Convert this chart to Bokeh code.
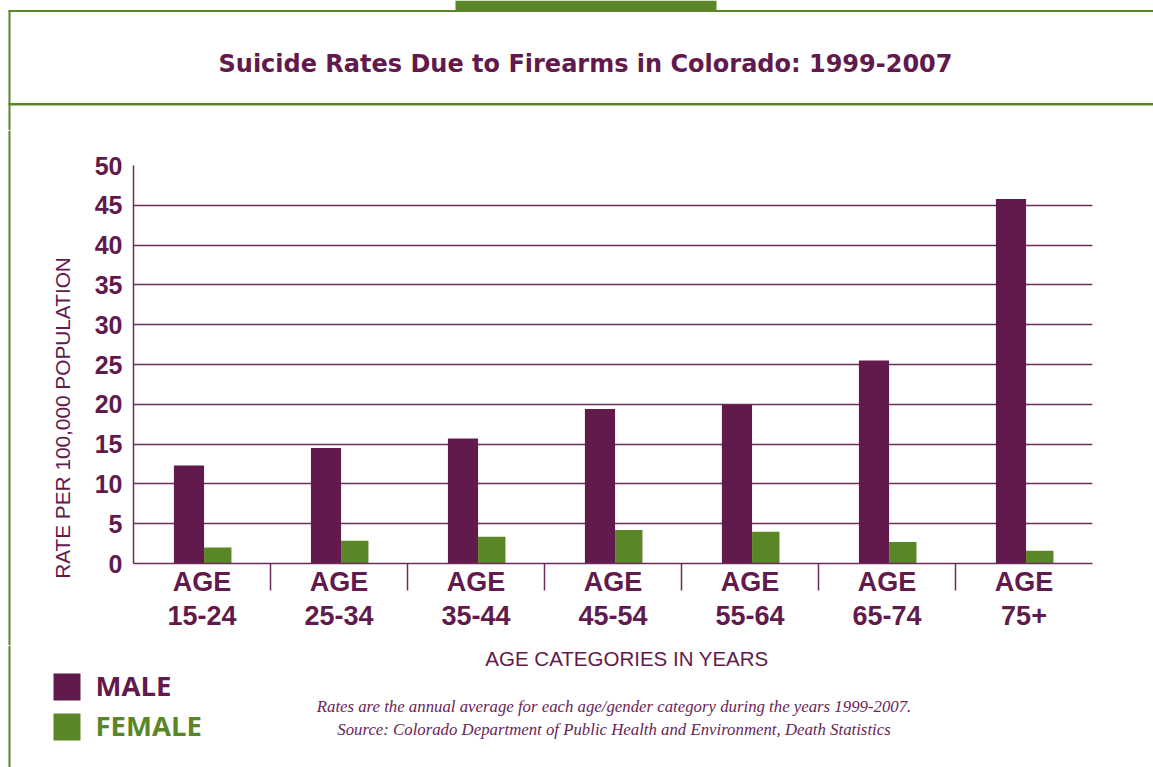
import numpy as np
from bokeh.plotting import figure
from bokeh.layouts import column, row
from bokeh.models import Range1d, FixedTicker, ColumnDataSource
from bokeh.core.properties import value
from bokeh.embed import file_html
from bokeh.resources import INLINE

# ---------------- data ----------------
title = "Suicide Rates Due to Firearms in Colorado: 1999-2007"
categories = ["15-24", "25-34", "35-44", "45-54", "55-64", "65-74", "75+"]
tick_prefix = "AGE"
male = [12.3, 14.5, 15.7, 19.4, 19.9, 25.5, 45.8]
female = [2.0, 2.85, 3.35, 4.2, 4.0, 2.7, 1.6]
y_ticks = [0, 5, 10, 15, 20, 25, 30, 35, 40, 45, 50]
y_title = "RATE PER 100,000 POPULATION"
x_title = "AGE CATEGORIES IN YEARS"
notes = [
    "Rates are the annual average for each age/gender category during the years 1999-2007.",
    "Source: Colorado Department of Public Health and Environment, Death Statistics",
]
series_names = ["MALE", "FEMALE"]

# ---------------- style ----------------
PURPLE = "#611a4b"
GREEN = "#5b8627"
GRID = "#6c2d5e"
NOTE = "#6a2458"
W, H = 1153, 767


def deco_fig(width, x0, x1, y_top, y_bottom):
    """A plain figure whose frame fills it, in page-pixel coordinates (y down)."""
    f = figure(width=width, height=y_bottom - y_top,
               x_range=Range1d(x0, x1), y_range=Range1d(y_bottom, y_top),
               x_axis_location=None, y_axis_location=None,
               output_backend="svg", toolbar_location=None, min_border=0)
    f.frame_align = False
    f.outline_line_color = None
    f.xgrid.visible = False
    f.ygrid.visible = False
    f.background_fill_color = "white"
    f.border_fill_color = "white"
    return f


# ---------------- header ----------------
hdr = deco_fig(W, 0, W, 0, 130)
hdr.quad(left=[455], right=[716], top=[0], bottom=[11], fill_color=GREEN, line_color=None)
hdr.quad(left=[8], right=[W], top=[9.5], bottom=[11.5], fill_color=GREEN, line_color=None)
hdr.quad(left=[8], right=[W], top=[102.5], bottom=[105], fill_color=GREEN, line_color=None)
hdr.quad(left=[8], right=[10], top=[10], bottom=[130], fill_color=GREEN, line_color=None)
hdr.text(x=[585], y=[63], text=[title], text_align="center", text_baseline="middle",
         text_font=value("DejaVu Sans"), text_font_style="bold", text_font_size="24px",
         text_color=PURPLE)

# ---------------- left strip ----------------
lft = deco_fig(80, 0, 80, 130, 645)
lft.quad(left=[8], right=[10], top=[130], bottom=[645], fill_color=GREEN, line_color=None)
lft.text(x=[62], y=[417.5], text=[y_title], angle=np.pi / 2, text_align="center",
         text_baseline="middle", text_font=value("Liberation Sans"),
         text_font_size="20.8px", text_color=PURPLE)

# ---------------- main chart ----------------
n = len(categories)
idx = np.arange(n)
src = ColumnDataSource(dict(x_m=idx - 0.095, x_f=idx + 0.115, male=male, female=female))

p = figure(width=W - 80, height=515,
           x_range=Range1d(-0.5, n - 0.5), y_range=Range1d(0, 50),
           output_backend="svg", toolbar_location=None,
           min_border_left=53, min_border_right=61,
           min_border_top=35, min_border_bottom=82)
p.frame_align = False
p.outline_line_color = None
p.background_fill_color = "white"
p.border_fill_color = "white"

r_m = p.vbar(x="x_m", top="male", width=0.22, bottom=0, source=src,
             fill_color=PURPLE, line_color=None)
r_f = p.vbar(x="x_f", top="female", width=0.2, bottom=0, source=src,
             fill_color=GREEN, line_color=None)

p.yaxis.ticker = FixedTicker(ticks=y_ticks)
p.yaxis.major_tick_out = 0
p.yaxis.major_tick_in = 0
p.yaxis.minor_tick_out = 0
p.yaxis.minor_tick_in = 0
p.yaxis.axis_line_color = GRID
p.yaxis.axis_line_width = 1.5
p.yaxis.major_label_text_font = "Liberation Sans"
p.yaxis.major_label_text_font_style = "bold"
p.yaxis.major_label_text_font_size = "25px"
p.yaxis.major_label_text_color = PURPLE
p.yaxis.major_label_standoff = 11

p.xaxis.ticker = FixedTicker(ticks=list(idx), minor_ticks=[i + 0.5 for i in range(n - 1)])
p.xaxis.major_label_overrides = {int(i): tick_prefix + "\n" + c for i, c in zip(idx, categories)}
p.xaxis.major_tick_out = 0
p.xaxis.major_tick_in = 0
p.xaxis.minor_tick_out = 27
p.xaxis.minor_tick_in = 0
p.xaxis.minor_tick_line_color = GRID
p.xaxis.minor_tick_line_width = 1.5
p.xaxis.axis_line_color = GRID
p.xaxis.axis_line_width = 1.5
p.xaxis.major_label_text_font = "Liberation Sans"
p.xaxis.major_label_text_font_style = "bold"
p.xaxis.major_label_text_font_size = "27px"
p.xaxis.major_label_text_color = PURPLE
p.xaxis.major_label_standoff = -24
p.xaxis.major_label_text_line_height = 1.15

p.xgrid.visible = False
p.ygrid.grid_line_color = GRID
p.ygrid.grid_line_width = 1.5

# ---------------- footer ----------------
ftr = deco_fig(W, 0, W, 645, H)
ftr.quad(left=[8], right=[10], top=[645], bottom=[H], fill_color=GREEN, line_color=None)
ftr.text(x=[626.5], y=[658], text=[x_title], text_align="center", text_baseline="middle",
         text_font=value("Liberation Sans"), text_font_size="20.5px", text_color=PURPLE)
leg_colors = [PURPLE, GREEN]
leg_y = [686.5, 726.5]
ftr.quad(left=[53, 53], right=[80, 80], top=[y - 13.5 for y in leg_y],
         bottom=[y + 13.5 for y in leg_y], fill_color=leg_colors, line_color=None)
ftr.text(x=[95, 95], y=[y - 1.5 for y in leg_y], text=series_names, text_align="left",
         text_baseline="middle", text_font=value("Open Sans"), text_font_style="bold",
         text_font_size="27.5px", text_color=leg_colors)
ftr.text(x=[613.5, 613.5], y=[706, 729], text=notes, text_align="center",
         text_baseline="middle", text_font=value("Liberation Serif"),
         text_font_style="italic", text_font_size="16.8px", text_color=NOTE)

layout = column(hdr, row(lft, p, spacing=0), ftr, spacing=0)
open("out.html", "w").write(file_html(layout, INLINE))
